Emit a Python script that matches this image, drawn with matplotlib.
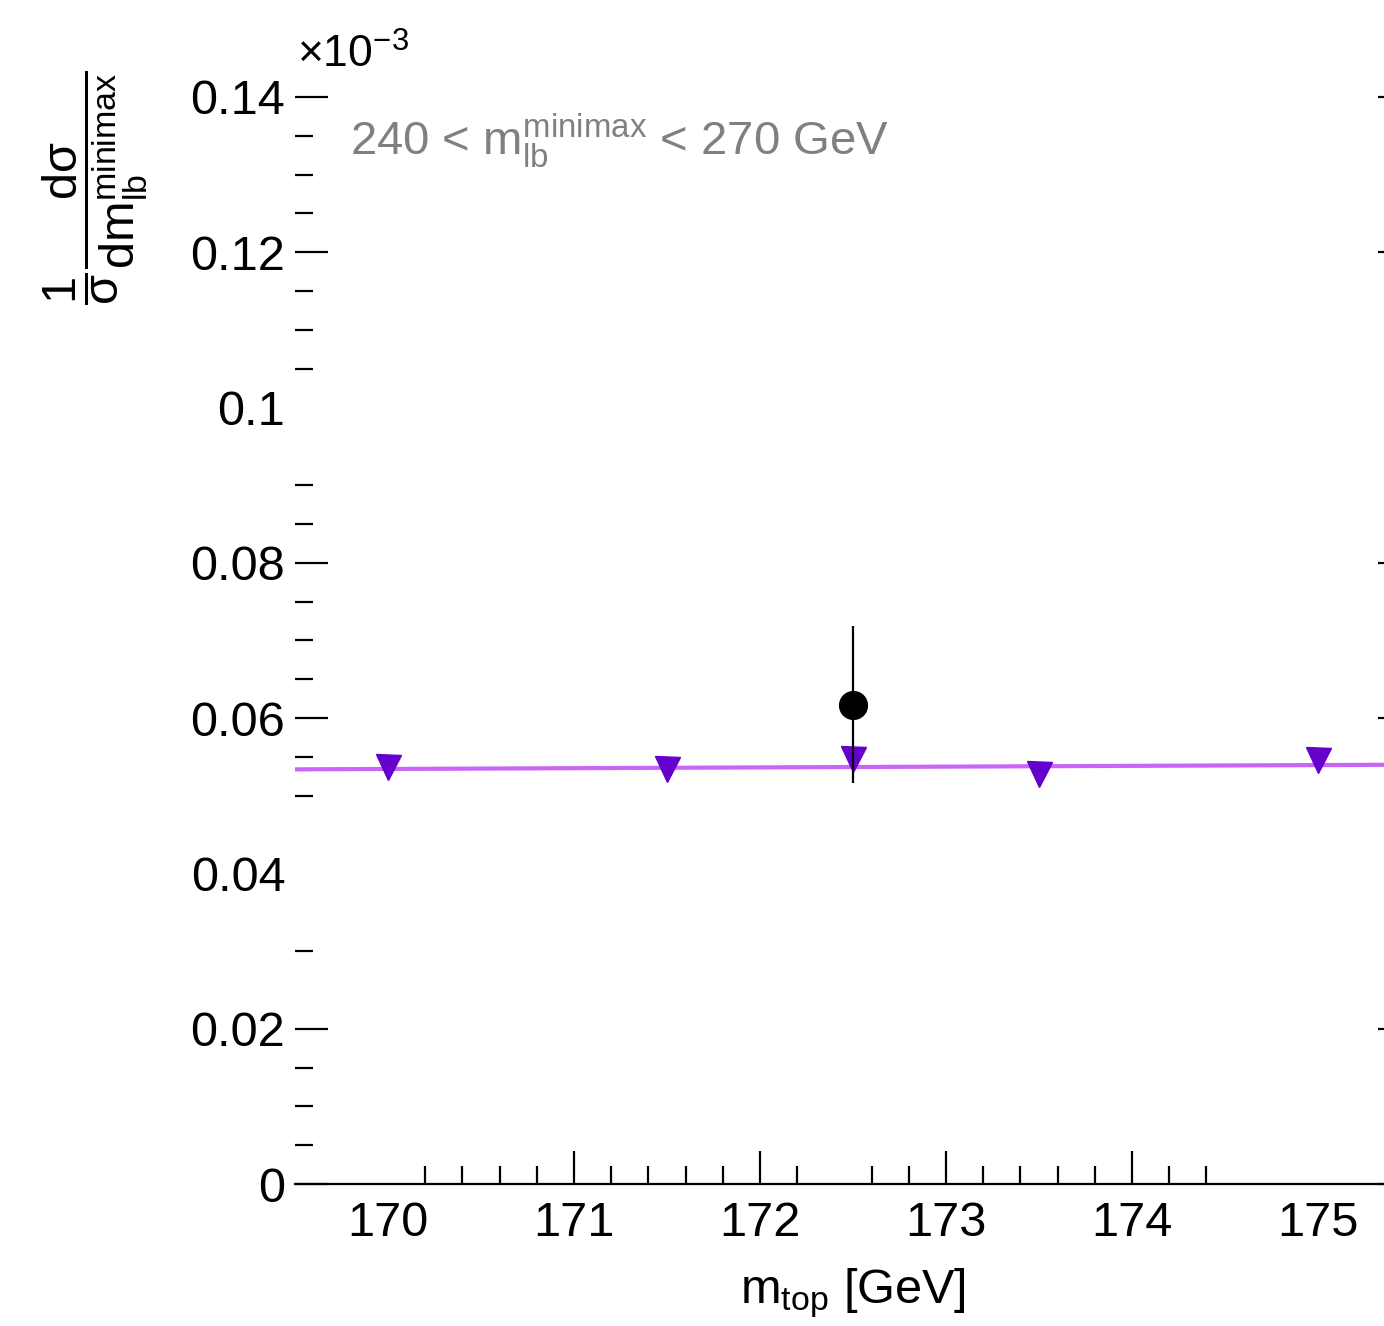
import matplotlib
matplotlib.use('Agg')
from matplotlib import pyplot as plt

# template predictions (inverted triangles) and the linear fit through them
mtop_templates = [170.0, 171.5, 172.5, 173.5, 175.0]
xsec_templates = [0.0537, 0.0535, 0.0547, 0.0528, 0.0546]
fit_x = [169.5, 175.5]
fit_y = [0.0534, 0.0540]

# measured value in this bin
mtop_data = [172.5]
xsec_data = [0.0617]
xsec_data_err = [0.0101]

# axis ticks
x_major = [170, 171, 172, 173, 174, 175]
x_major_drawn = [171, 172, 173, 174]
x_minor = [170.2, 170.4, 170.6, 170.8, 171.2, 171.4, 171.6, 171.8, 172.2,
           172.6, 172.8, 173.2, 173.4, 173.6, 173.8, 174.2, 174.4]
y_major = [0, 0.02, 0.04, 0.06, 0.08, 0.1, 0.12, 0.14]
y_labels = ['0', '0.02', '0.04', '0.06', '0.08', '0.1', '0.12', '0.14']
y_major_drawn = [0, 0.02, 0.06, 0.08, 0.12, 0.14]
y_minor = [0.005, 0.01, 0.015, 0.03, 0.05, 0.055, 0.065, 0.07, 0.075, 0.085,
           0.09, 0.105, 0.11, 0.115, 0.125, 0.13, 0.135]

plt.rcParams['font.family'] = ['Liberation Sans', 'DejaVu Sans']
plt.rcParams['mathtext.fontset'] = 'custom'
plt.rcParams['mathtext.rm'] = 'Liberation Sans'
plt.rcParams['mathtext.it'] = 'Liberation Sans'
plt.rcParams['mathtext.default'] = 'regular'

W, H = 1384, 1326
fig = plt.figure(figsize=(W / 100, H / 100), dpi=100)

x_lo, x_hi = 169.5, 175.5
y_hi = 0.145
px_per_x = 186.0
px_per_y = 155.3 / 0.02
left_px, bottom_px = 295, 1184
ax = fig.add_axes([left_px / W, (H - bottom_px) / H,
                   (x_hi - x_lo) * px_per_x / W, y_hi * px_per_y / H])

ax.plot(fit_x, fit_y, color='#c966f7', lw=3.0, zorder=2)
ax.plot(mtop_templates, xsec_templates, linestyle='none', marker='v',
        markersize=18, color='#6600cc', zorder=3)
ax.errorbar(mtop_data, xsec_data, yerr=xsec_data_err, fmt='o', color='black',
            markersize=20, elinewidth=1.6, capsize=0, zorder=4)

ax.set_xlim(x_lo, x_hi)
ax.set_ylim(0, y_hi)

for side in ['left', 'top', 'right']:
    ax.spines[side].set_visible(False)
ax.spines['bottom'].set_linewidth(1.6)

ax.set_xticks(x_major, [str(v) for v in x_major])
ax.set_xticks(x_minor, minor=True)
ax.set_yticks(y_major, y_labels)
ax.set_yticks(y_minor, minor=True)

ax.tick_params(axis='both', which='both', direction='in', width=1.6,
               labelsize=35, colors='black')
ax.tick_params(axis='both', which='major', length=24)
ax.tick_params(axis='both', which='minor', length=13)
ax.tick_params(axis='x', which='both', top=False, pad=12)
ax.tick_params(axis='y', which='major', right=True, pad=7)
ax.tick_params(axis='y', which='minor', right=False)

for tick, val in zip(ax.xaxis.get_major_ticks(), x_major):
    if val not in x_major_drawn:
        tick.tick1line.set_visible(False)
for tick, val in zip(ax.yaxis.get_major_ticks(), y_major):
    if val not in y_major_drawn:
        tick.tick1line.set_visible(False)
        tick.tick2line.set_visible(False)

ax.set_xlabel(r'm$_{\mathrm{top}}$ [GeV]', fontsize=35, labelpad=15)

fig.text(0.0686, 0.858,
         r'$\dfrac{1}{\sigma}\dfrac{d\sigma}{dm_{lb}^{minimax}}$',
         rotation=90, ha='center', va='center', fontsize=35)
fig.text(297 / W, 1 - 68 / H, r'$\times$10$^{-3}$', fontsize=32,
         ha='left', va='baseline')
ax.text(350 / W, 1 - 155 / H, r'240 < m$_{lb}^{minimax}$ < 270 GeV',
        transform=fig.transFigure, fontsize=34, color='#808080',
        ha='left', va='baseline')

fig.savefig('out.png', dpi=100)
